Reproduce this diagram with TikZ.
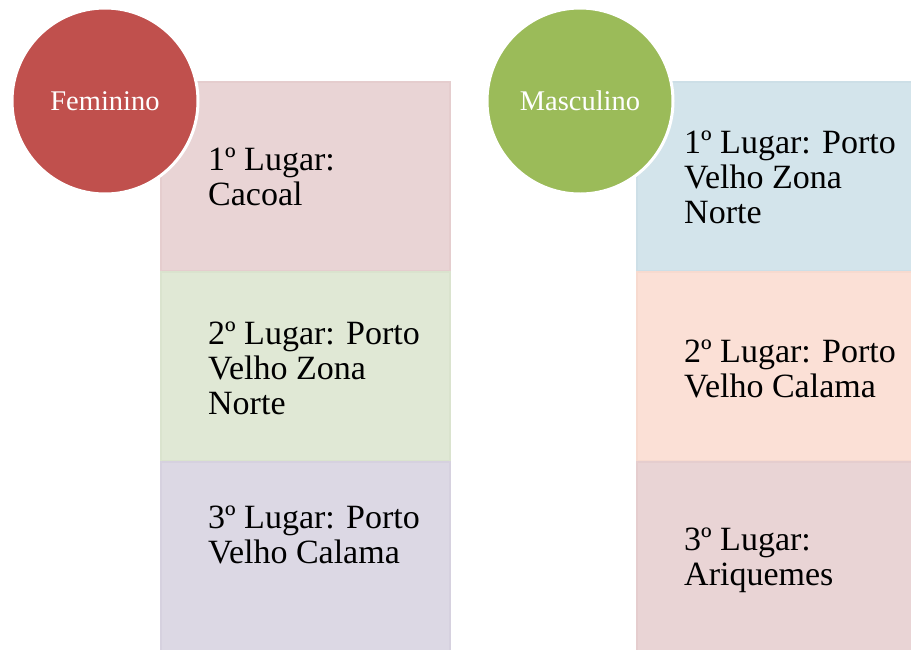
\documentclass[tikz,border=0pt]{standalone}
\usepackage{fontspec}
\setmainfont{Liberation Serif}
\definecolor{cfem}{HTML}{C0504D}
\definecolor{cmasc}{HTML}{9BBB59}
\definecolor{bpink}{HTML}{E9D4D5}
\definecolor{bpinkd}{HTML}{E5CDCE}
\definecolor{bgreen}{HTML}{E0E8D5}
\definecolor{bgreend}{HTML}{DAE3CE}
\definecolor{bpurple}{HTML}{DCD8E4}
\definecolor{bpurpled}{HTML}{D6D1DF}
\definecolor{bblue}{HTML}{D3E4EB}
\definecolor{bblued}{HTML}{CDDFE7}
\definecolor{bpeach}{HTML}{FBE0D6}
\definecolor{bpeachd}{HTML}{F7DACF}
\tikzset{
  cell/.style={rectangle, anchor=north west, inner sep=0pt, line width=2pt},
  celltext/.style={anchor=west, align=left, inner sep=0pt, text=black,
    font=\fontsize{34}{35}\selectfont},
  badge/.style={circle, inner sep=0pt, minimum size=186pt, draw=white,
    line width=3pt, text=white, font=\fontsize{28.5}{30}\selectfont}
}
\begin{document}
\begin{tikzpicture}[x=1pt,y=-1pt]
\useasboundingbox (0,0) rectangle (911,649);
% left column
\node[cell, fill=bpink, draw=bpinkd, minimum width=289pt, minimum height=189pt] (f1) at (160,81) {};
\node[cell, fill=bgreen, draw=bgreend, minimum width=289pt, minimum height=189pt] (f2) at (160,271) {};
\node[cell, fill=bpurple, draw=bpurpled, minimum width=289pt, minimum height=190pt] (f3) at (160,461) {};
% right column
\node[cell, fill=bblue, draw=bblued, minimum width=280pt, minimum height=189pt] (m1) at (636,81) {};
\node[cell, fill=bpeach, draw=bpeachd, minimum width=280pt, minimum height=189pt] (m2) at (636,271) {};
\node[cell, fill=bpink, draw=bpinkd, minimum width=280pt, minimum height=190pt] (m3) at (636,461) {};
% texts
\node[celltext] (tf1) at (208,177) {1º Lugar:\\Cacoal};
\node[celltext] (tf2) at (208,368) {2º Lugar: Porto\\Velho Zona\\Norte};
\node[celltext] (tf3) at (208,535) {3º Lugar: Porto\\Velho Calama};
\node[celltext] (tm1) at (684,177) {1º Lugar: Porto\\Velho Zona\\Norte};
\node[celltext] (tm2) at (684,369) {2º Lugar: Porto\\Velho Calama};
\node[celltext] (tm3) at (684,560) {3º Lugar:\\Ariquemes};
% circles
\node[badge, fill=cfem] (fem) at (105,101) {Feminino};
\node[badge, fill=cmasc] (masc) at (580,101) {Masculino};
\end{tikzpicture}
\end{document}
